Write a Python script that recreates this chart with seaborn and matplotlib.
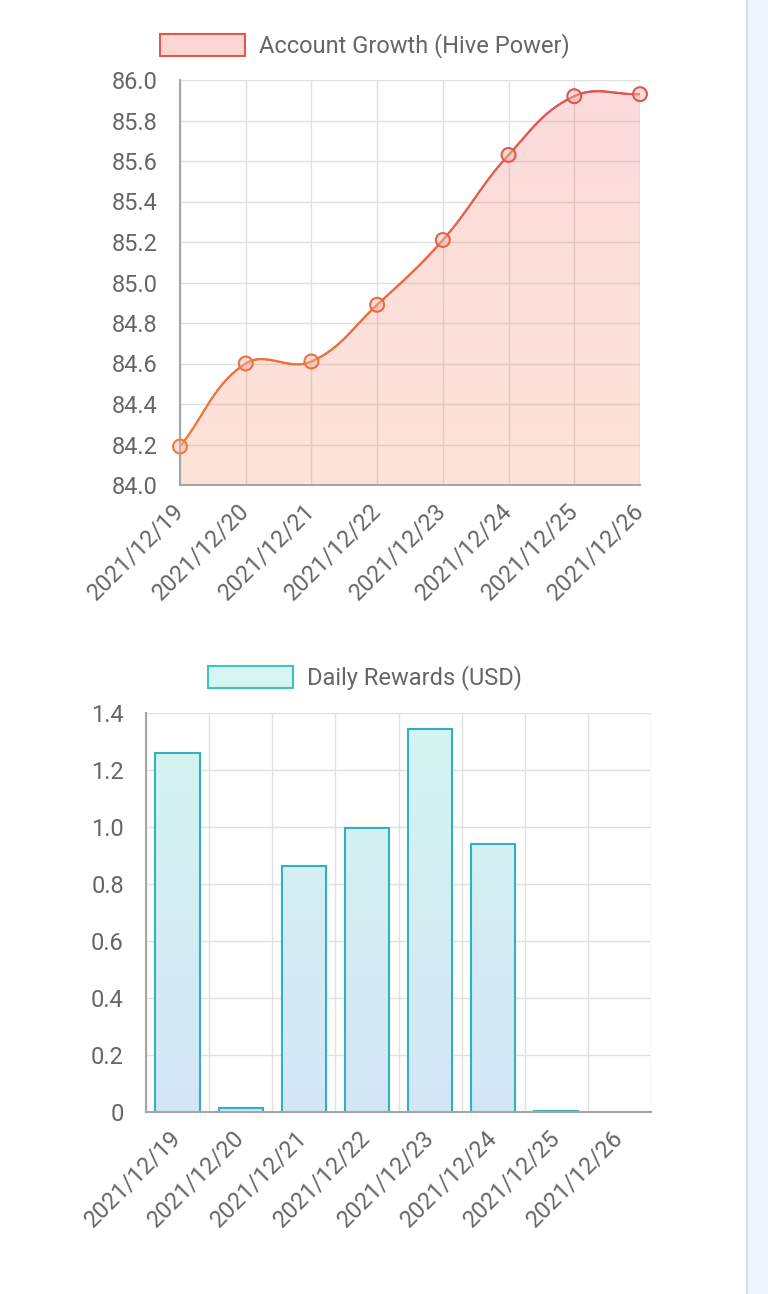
import numpy as np
import pandas as pd
import matplotlib
matplotlib.use("Agg")
import matplotlib.pyplot as plt
import seaborn as sns
from matplotlib.patches import Patch, Rectangle
from matplotlib.collections import LineCollection
from matplotlib.colors import LinearSegmentedColormap, Normalize

# ---------------- data ----------------
dates = ["2021/12/19", "2021/12/20", "2021/12/21", "2021/12/22",
         "2021/12/23", "2021/12/24", "2021/12/25", "2021/12/26"]
hive_power = [84.19, 84.60, 84.61, 84.89, 85.21, 85.63, 85.92, 85.93]
daily_rewards = [1.26, 0.014, 0.863, 0.997, 1.345, 0.94, 0.002, 0.0]
hp_ticks = [84.0, 84.2, 84.4, 84.6, 84.8, 85.0, 85.2, 85.4, 85.6, 85.8, 86.0]
hp_tick_labels = ["84.0", "84.2", "84.4", "84.6", "84.8", "85.0",
                  "85.2", "85.4", "85.6", "85.8", "86.0"]
usd_ticks = [0, 0.2, 0.4, 0.6, 0.8, 1.0, 1.2, 1.4]
usd_tick_labels = ["0", "0.2", "0.4", "0.6", "0.8", "1.0", "1.2", "1.4"]
legend_hp = "Account Growth (Hive Power)"
legend_usd = "Daily Rewards (USD)"

# ---------------- style ----------------
sns.set_theme(style="white")
plt.rcParams['font.family'] = ['Roboto', 'DejaVu Sans']
TXT = '#666666'
GRID = '#E0E0E0'
AXIS = '#A6A6A6'
FS = 17
TICKLEN = 14

W, H = 768, 1294
fig = plt.figure(figsize=(W / 100, H / 100), dpi=100)
fig.patch.set_facecolor('white')

ax1 = fig.add_axes([180 / W, 1 - 485 / H, 460 / W, 405 / H])
ax2 = fig.add_axes([146 / W, 1 - 1112 / H, 505 / W, 399 / H])


def style_axes(ax):
    ax.set_axisbelow(True)
    ax.grid(True, color=GRID, lw=1.0)
    for s in ['top', 'right']:
        ax.spines[s].set_visible(False)
    for s in ['left', 'bottom']:
        ax.spines[s].set_color(AXIS)
        ax.spines[s].set_linewidth(1.5)
        ax.spines[s].set_zorder(4)
    ax.tick_params(axis='both', which='both', length=TICKLEN, width=1.0,
                   color=GRID, labelsize=FS, labelcolor=TXT, pad=2)
    ax.set_xlabel('')
    ax.set_ylabel('')


# ---------------- top chart: smooth area line ----------------
df1 = pd.DataFrame({'date': dates, 'hp': hive_power, 'idx': np.arange(len(dates))})
ax1.set_xlim(0, len(dates) - 1)
ax1.set_ylim(hp_ticks[0], hp_ticks[-1])


def chartjs_curve(ax, xs, ys, tension=0.4, nseg=40):
    """Chart.js-style cubic bezier smoothing, computed in pixel space."""
    pts = ax.transData.transform(np.column_stack([xs, ys]))
    n = len(pts)
    prev_cp = pts.copy()
    next_cp = pts.copy()
    for i in range(n):
        p0 = pts[max(i - 1, 0)]
        p1 = pts[i]
        p2 = pts[min(i + 1, n - 1)]
        d01 = np.hypot(*(p1 - p0))
        d12 = np.hypot(*(p2 - p1))
        tot = d01 + d12
        s01 = d01 / tot if tot else 0
        s12 = d12 / tot if tot else 0
        prev_cp[i] = p1 - tension * s01 * (p2 - p0)
        next_cp[i] = p1 + tension * s12 * (p2 - p0)
    bb = ax.bbox
    prev_cp[:, 1] = np.clip(prev_cp[:, 1], bb.y0, bb.y1)
    next_cp[:, 1] = np.clip(next_cp[:, 1], bb.y0, bb.y1)
    out = [pts[0]]
    t = np.linspace(0, 1, nseg)[1:, None]
    for i in range(n - 1):
        a, b, c, d = pts[i], next_cp[i], prev_cp[i + 1], pts[i + 1]
        seg = ((1 - t) ** 3) * a + 3 * ((1 - t) ** 2) * t * b + 3 * (1 - t) * t ** 2 * c + t ** 3 * d
        out.extend(seg)
    out = np.array(out)
    return ax.transData.inverted().transform(out)


curve = chartjs_curve(ax1, df1['idx'].values, df1['hp'].values)
cx, cy = curve[:, 0], curve[:, 1]

# gradient area fill
poly = ax1.fill_between(cx, cy, hp_ticks[0], facecolor='none', edgecolor='none')
bot_c = np.array([248, 128, 78]) / 255
top_c = np.array([240, 92, 92]) / 255
g = np.linspace(0, 1, 256)[:, None]
grad = np.zeros((256, 1, 4))
grad[:, 0, :3] = bot_c * (1 - g) + top_c * g
grad[:, 0, 3] = 0.22
img = ax1.imshow(grad, extent=[0, len(dates) - 1, hp_ticks[0], hp_ticks[-1]],
                 origin='lower', aspect='auto', zorder=1.5, interpolation='bilinear')
img.set_clip_path(poly.get_paths()[0], transform=ax1.transData)

# gradient line
line_cmap = LinearSegmentedColormap.from_list('ln', ['#EF7E3A', '#E86A42', '#DE5452'])
lnorm = Normalize(hp_ticks[0], hp_ticks[-1])
segs = np.stack([curve[:-1], curve[1:]], axis=1)
ymid = (curve[:-1, 1] + curve[1:, 1]) / 2
lc = LineCollection(segs, colors=line_cmap(lnorm(ymid)), linewidths=1.6,
                    zorder=3, capstyle='round', joinstyle='round')
ax1.add_collection(lc)

# point markers
sns.scatterplot(data=df1, x='idx', y='hp', ax=ax1, s=100, zorder=5, legend=False,
                clip_on=False)
pc = ax1.collections[-1]
pc.set_facecolor((0.97, 0.72, 0.66, 0.45))
pc.set_edgecolor(line_cmap(lnorm(np.array(hive_power))))
pc.set_linewidth(1.5)
pc.set_clip_on(False)

ax1.set_xlim(0, len(dates) - 1)
ax1.set_ylim(hp_ticks[0], hp_ticks[-1])
ax1.set_yticks(hp_ticks, labels=hp_tick_labels)
ax1.set_xticks(df1['idx'].values, labels=dates)
style_axes(ax1)
for lab in ax1.get_xticklabels():
    lab.set_rotation(45)
    lab.set_ha('right')
    lab.set_va('center')
    lab.set_rotation_mode('anchor')
ax1.xaxis.get_major_ticks()[0].tick1line.set_color(AXIS)
ax1.yaxis.get_major_ticks()[0].tick1line.set_color(AXIS)

h1 = Patch(facecolor='#FBD6D3', edgecolor='#E0594A', linewidth=1.5)
ax1.legend([h1], [legend_hp], loc='center', bbox_to_anchor=(0.475, 1 - 46 / H),
           bbox_transform=fig.transFigure, frameon=False, fontsize=FS,
           labelcolor=TXT, handlelength=3.6, handleheight=1.05, handletextpad=0.6)

# ---------------- bottom chart: bars ----------------
df2 = pd.DataFrame({'date': dates, 'usd': daily_rewards})
sns.barplot(data=df2, x='date', y='usd', ax=ax2, width=0.7, color='#D3EEF4',
            edgecolor='#30B2BE', linewidth=1.5, zorder=2)
ax2.set_xlim(-0.5, len(dates) - 0.5)
ax2.set_ylim(usd_ticks[0], usd_ticks[-1])

bar_grad = np.zeros((256, 1, 4))
bc = np.array([211, 230, 247]) / 255
tc = np.array([212, 245, 240]) / 255
bar_grad[:, 0, :3] = bc * (1 - g) + tc * g
bar_grad[:, 0, 3] = 1.0
for p in list(ax2.patches):
    p.set_facecolor('none')
    im = ax2.imshow(bar_grad, extent=[-0.5, len(dates) - 0.5, usd_ticks[0], usd_ticks[-1]],
                    origin='lower', aspect='auto', zorder=1.5, interpolation='bilinear')
    im.set_clip_path(p)

ax2.set_xlim(-0.5, len(dates) - 0.5)
ax2.set_ylim(usd_ticks[0], usd_ticks[-1])
ax2.set_yticks(usd_ticks, labels=usd_tick_labels)
ax2.set_xticks(np.arange(len(dates)), labels=dates)
ax2.set_xticks(np.arange(len(dates) + 1) - 0.5, minor=True)
style_axes(ax2)
ax2.grid(False, axis='x', which='major')
ax2.grid(True, axis='x', which='minor', color=GRID, lw=1.0)
ax2.tick_params(axis='x', which='major', length=0, pad=TICKLEN * 1.0 + 2)
for lab in ax2.get_xticklabels():
    lab.set_rotation(45)
    lab.set_ha('right')
    lab.set_va('center')
    lab.set_rotation_mode('anchor')
ax2.xaxis.get_minor_ticks()[0].tick1line.set_color(AXIS)
ax2.yaxis.get_major_ticks()[0].tick1line.set_color(AXIS)

h2 = Patch(facecolor='#D5F5F1', edgecolor='#3CC4BA', linewidth=1.5)
ax2.legend([h2], [legend_usd], loc='center', bbox_to_anchor=(0.475, 1 - 678 / H),
           bbox_transform=fig.transFigure, frameon=False, fontsize=FS,
           labelcolor=TXT, handlelength=3.6, handleheight=1.05, handletextpad=0.6)

# ---------------- page decoration (right strip) ----------------
fig.patches.append(Rectangle((748 / W, 0), 20 / W, 1, transform=fig.transFigure,
                             facecolor='#EEF5FD', edgecolor='none', zorder=0))
fig.patches.append(Rectangle((746 / W, 0), 2 / W, 1, transform=fig.transFigure,
                             facecolor='#D9DEE5', edgecolor='none', zorder=0))

fig.savefig('out.png', dpi=100)
